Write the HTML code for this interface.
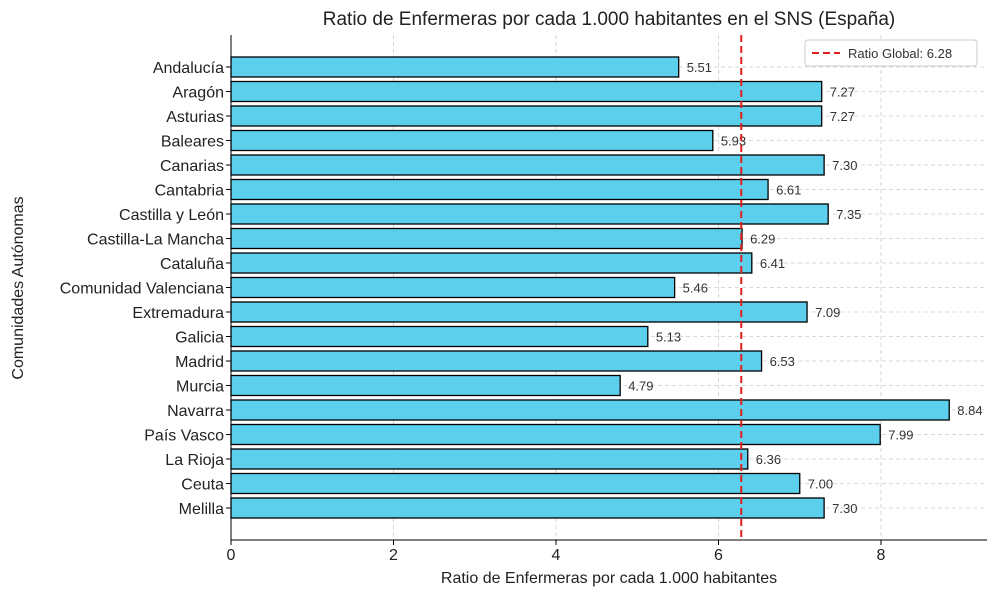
<!DOCTYPE html>
<html><head><meta charset="utf-8"><style>
body{margin:0;background:#fff;font-family:"Liberation Sans","DejaVu Sans",sans-serif}
</style></head><body>
<svg id="c" width="1000" height="596" xmlns="http://www.w3.org/2000/svg" font-family="Liberation Sans, DejaVu Sans, sans-serif"></svg>
<script>
const regions=["Andalucía","Aragón","Asturias","Baleares","Canarias","Cantabria","Castilla y León","Castilla-La Mancha","Cataluña","Comunidad Valenciana","Extremadura","Galicia","Madrid","Murcia","Navarra","País Vasco","La Rioja","Ceuta","Melilla"];
const ratios=[5.51,7.27,7.27,5.93,7.30,6.61,7.35,6.29,6.41,5.46,7.09,5.13,6.53,4.79,8.84,7.99,6.36,7.00,7.30];
const globalRatio=6.28;
const xTicks=[0,2,4,6,8];
const svg=document.getElementById('c');const NS="http://www.w3.org/2000/svg";
function mk(t,a,p){const e=document.createElementNS(NS,t);for(const k in a)e.setAttribute(k,a[k]);(p||svg).appendChild(e);return e;}
const x0=231,pxu=81.25,yTop=35,yBot=540,xEnd=987;
const X=v=>x0+v*pxu;
const Y=i=>67+i*24.5;
// grid
const g=mk('g',{});


xTicks.forEach(t=>{mk('line',{x1:X(t),x2:X(t),y1:yTop,y2:yBot,stroke:'#ccc','stroke-dasharray':'4,3','stroke-width':0.8},g);});
regions.forEach((r,i)=>{mk('line',{x1:x0,x2:xEnd,y1:Y(i),y2:Y(i),stroke:'#ccc','stroke-dasharray':'4,3','stroke-width':0.8},g);});
// bars
regions.forEach((r,i)=>{
 const b=mk('rect',{x:X(0),y:Y(i)-10,width:X(ratios[i])-X(0),height:20,fill:'#5bcfec',stroke:'#000','stroke-width':1.3});
 
 
 const v=mk('text',{x:X(ratios[i])+8,y:Y(i)+5,'font-size':13,fill:'#333'});v.textContent=ratios[i].toFixed(2);
 
 
 const l=mk('text',{x:x0-7,y:Y(i)+6,'font-size':16,fill:'#222','text-anchor':'end'});l.textContent=r;
 
 
});
// global line
const gl=mk('line',{x1:X(globalRatio),x2:X(globalRatio),y1:yTop,y2:yBot,stroke:'#e0201b','stroke-width':2,'stroke-dasharray':'7,4'});


// axes
mk('line',{x1:x0,x2:x0,y1:yTop,y2:yBot,stroke:'#000','stroke-width':1});
mk('line',{x1:x0,x2:xEnd,y1:yBot,y2:yBot,stroke:'#000','stroke-width':1});
xTicks.forEach(t=>{mk('line',{x1:X(t),x2:X(t),y1:yBot,y2:yBot+5,stroke:'#000'});
 const tl=mk('text',{x:X(t),y:yBot+20,'font-size':16,'text-anchor':'middle',fill:'#222'});tl.textContent=t;
 
 });
regions.forEach((r,i)=>mk('line',{x1:x0-5,x2:x0,y1:Y(i),y2:Y(i),stroke:'#000'}));
const xt=mk('text',{x:609,y:583,'font-size':16,'text-anchor':'middle',fill:'#222'});xt.textContent='Ratio de Enfermeras por cada 1.000 habitantes';


const yt=mk('text',{x:23,y:288,'font-size':16,'text-anchor':'middle',fill:'#222',transform:'rotate(-90 23 288)'});yt.textContent='Comunidades Autónomas';


const tt=mk('text',{x:609,y:25,'font-size':19,'text-anchor':'middle',fill:'#222'});tt.textContent='Ratio de Enfermeras por cada 1.000 habitantes en el SNS (España)';


// legend
const lg=mk('g',{});


mk('rect',{x:805,y:40,width:172,height:26,rx:3,fill:'#fff',stroke:'#ccc'},lg);
mk('line',{x1:812,x2:840,y1:53,y2:53,stroke:'#e0201b','stroke-width':2,'stroke-dasharray':'7,4'},lg);
const lt=mk('text',{x:848,y:58,'font-size':13,fill:'#333'},lg);lt.textContent='Ratio Global: '+globalRatio.toFixed(2);
</script>
</body></html>
